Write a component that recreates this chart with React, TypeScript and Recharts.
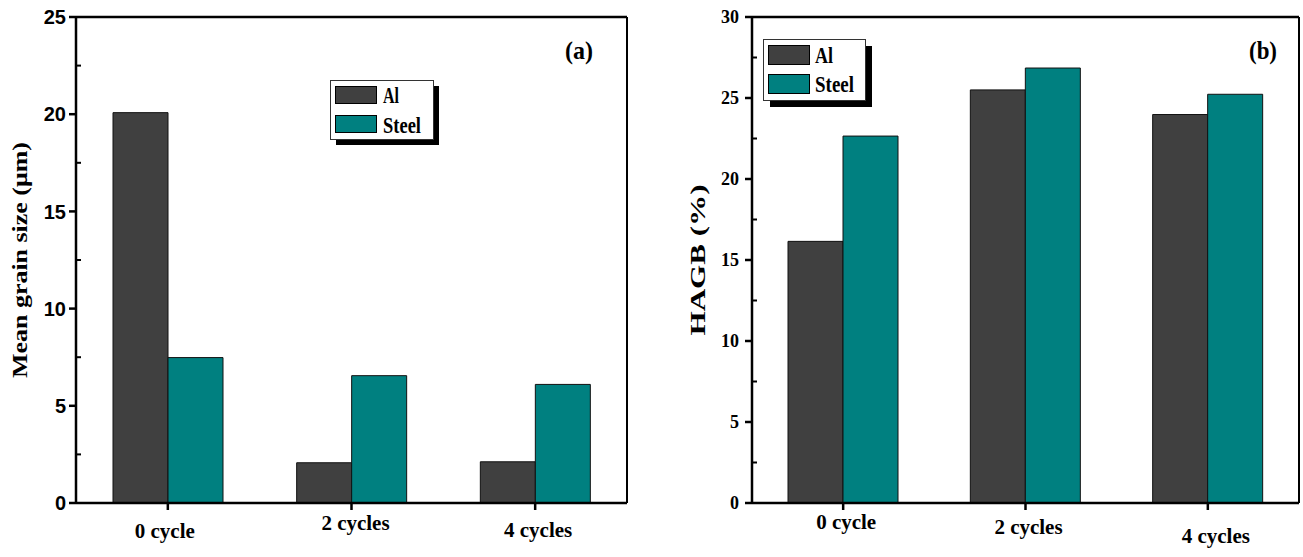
import React from 'react';
import { BarChart, Bar, XAxis, YAxis, Legend } from 'recharts';

// ---------- data ----------
const categories = ['0 cycle', '2 cycles', '4 cycles'];
const seriesNames = ['Al', 'Steel'];
const grainAl = [20.08, 2.07, 2.12];
const grainSteel = [7.48, 6.55, 6.1];
const hagbAl = [16.15, 25.5, 23.98];
const hagbSteel = [22.65, 26.85, 25.23];
const grainTicks = [0, 2.5, 5, 7.5, 10, 12.5, 15, 17.5, 20, 22.5, 25];
const hagbTicks = [0, 2.5, 5, 7.5, 10, 12.5, 15, 17.5, 20, 22.5, 25, 27.5, 30];
const panelLabels = ['(a)', '(b)'];
const yTitles = ['Mean grain size (\u03bcm)', 'HAGB (%)'];

const grainData = categories.map((c, i) => ({ cat: c, [seriesNames[0]]: grainAl[i], [seriesNames[1]]: grainSteel[i] }));
const hagbData = categories.map((c, i) => ({ cat: c, [seriesNames[0]]: hagbAl[i], [seriesNames[1]]: hagbSteel[i] }));

// ---------- styles ----------
const AL_COLOR = '#404040';
const STEEL_COLOR = '#008080';
const SERIF = '"Liberation Serif", "Times New Roman", serif';
const SANS = '"Liberation Sans", Arial, sans-serif';
const TICK_SIZE = 6;
const TICK_MARGIN = 2;
// label offsets [dx, baseline below axis]
const leftXLabelOffsets = [[-3, 35], [4, 27], [3, 34]];
const rightXLabelOffsets = [[3, 26], [3, 31], [8, 40]];

const makeYTick = (font: string, size: number, gap: number) => (props: any) => {
  const { x, y, payload } = props;
  const ax = x + TICK_SIZE + TICK_MARGIN;
  const v = payload.value;
  if (v % 5 === 0) {
    return (
      <g>
        <line x1={ax - 7} x2={ax} y1={y} y2={y} stroke="#000" strokeWidth={2.5} />
        <text x={ax - gap} y={y} dy="0.36em" textAnchor="end" fontFamily={font} fontWeight="bold" fontSize={size} fill="#000">
          {v}
        </text>
      </g>
    );
  }
  return <line x1={ax} x2={ax + 5} y1={y} y2={y} stroke="#000" strokeWidth={2} />;
};

const makeXTick = (offsets: number[][]) => (props: any) => {
  const { x, y, payload, index } = props;
  const ay = y - TICK_SIZE - TICK_MARGIN;
  const off = offsets[index] || [0, 30];
  return (
    <g>
      <line x1={x} x2={x} y1={ay} y2={ay + 7} stroke="#000" strokeWidth={2.5} />
      <text x={x + off[0]} y={ay + off[1]} textAnchor="middle" fontFamily={SERIF} fontWeight="bold" fontSize={21} fill="#000">
        {payload.value}
      </text>
    </g>
  );
};

const makeYTitle = (text: string, cx: number, len: number) => (props: any) => {
  const vb = props.viewBox || {};
  const cy = vb.y + vb.height / 2;
  return (
    <text
      x={cx}
      y={cy}
      transform={`rotate(-90 ${cx} ${cy})`}
      textAnchor="middle"
      dominantBaseline="central"
      fontFamily={SERIF}
      fontWeight="bold"
      fontSize={21}
      fill="#000"
      textLength={len}
      lengthAdjust="spacingAndGlyphs"
    >
      {text}
    </text>
  );
};

const makePanelLabel = (text: string, fromRight: number) => (props: any) => {
  const vb = props.viewBox || {};
  const cx = vb.x + vb.width - fromRight;
  return (
    <text x={cx} y={59} textAnchor="middle" fontFamily={SERIF} fontWeight="bold" fontSize={25} fill="#000" textLength={28} lengthAdjust="spacingAndGlyphs">
      {text}
    </text>
  );
};

const makeLegend = (cfg: { w: number; h: number; sw: number; rowY: number[]; rowH: number; textX: number; baseY: number[]; fs: number; lens: number[]; shadow: number }) => (props: any) => {
  const payload = props.payload || [];
  return (
    <svg width={cfg.w + cfg.shadow + 1} height={cfg.h + cfg.shadow + 1} style={{ display: 'block' }}>
      <rect x={cfg.shadow} y={cfg.shadow} width={cfg.w} height={cfg.h} fill="#000" />
      <rect x={0.5} y={0.5} width={cfg.w} height={cfg.h} fill="#fff" stroke="#333" strokeWidth={1} />
      {payload.map((p: any, i: number) => (
        <g key={i}>
          <rect x={5.5} y={cfg.rowY[i]} width={cfg.sw} height={cfg.rowH} fill={p.color} stroke="#000" strokeWidth={1} />
          <text x={cfg.textX} y={cfg.baseY[i]} fontFamily={SERIF} fontWeight="bold" fontSize={cfg.fs} fill="#000" textLength={cfg.lens[i]} lengthAdjust="spacingAndGlyphs">
            {p.value}
          </text>
        </g>
      ))}
    </svg>
  );
};

const leftLegend = makeLegend({ w: 103, h: 59, sw: 41, rowY: [6.5, 35.5], rowH: 17, textX: 53, baseY: [23, 53], fs: 23, lens: [16, 38], shadow: 6 });
const rightLegend = makeLegend({ w: 102, h: 61, sw: 41, rowY: [6.5, 35.5], rowH: 19, textX: 52, baseY: [24, 53], fs: 24, lens: [18, 39], shadow: 7 });

export default function App() {
  return (
    <div style={{ position: 'absolute', left: 0, top: 0, width: 1303, height: 557, display: 'flex', background: '#fff' }}>
      <BarChart width={650} height={557} data={grainData} margin={{ top: 16, right: 22, bottom: 0, left: 0 }} barGap={0} barSize={55}>
        <XAxis
          dataKey="cat"
          height={54}
          interval={0}
          tickSize={TICK_SIZE}
          tickMargin={TICK_MARGIN}
          tickLine={false}
          axisLine={{ stroke: '#000', strokeWidth: 2.5 }}
          tick={makeXTick(leftXLabelOffsets)}
        />
        <XAxis
          xAxisId="top"
          orientation="top"
          dataKey="cat"
          height={1}
          tick={false}
          tickLine={false}
          axisLine={{ stroke: '#000', strokeWidth: 2.5 }}
          label={makePanelLabel(panelLabels[0], 48)}
        />
        <YAxis
          width={76}
          domain={[0, 25]}
          ticks={grainTicks}
          interval={0}
          tickSize={TICK_SIZE}
          tickMargin={TICK_MARGIN}
          tickLine={false}
          axisLine={{ stroke: '#000', strokeWidth: 2.5 }}
          tick={makeYTick(SANS, 20, 10)}
          label={makeYTitle(yTitles[0], 20, 236)}
        />
        <YAxis yAxisId="right" orientation="right" width={1} domain={[0, 25]} tick={false} tickLine={false} axisLine={{ stroke: '#000', strokeWidth: 2 }} />
        <Legend
          layout="vertical"
          align="center"
          verticalAlign="middle"
          content={leftLegend}
          wrapperStyle={{ left: 330, top: 80, width: 'auto', height: 'auto' }}
        />
        <Bar dataKey={seriesNames[0]} name={seriesNames[0]} fill={AL_COLOR} stroke="#111" strokeWidth={1} isAnimationActive={false} />
        <Bar dataKey={seriesNames[1]} name={seriesNames[1]} fill={STEEL_COLOR} stroke="#111" strokeWidth={1} isAnimationActive={false} />
      </BarChart>
      <BarChart width={653} height={557} data={hagbData} margin={{ top: 16, right: 3, bottom: 0, left: 0 }} barGap={0} barSize={55}>
        <XAxis
          dataKey="cat"
          height={54}
          interval={0}
          tickSize={TICK_SIZE}
          tickMargin={TICK_MARGIN}
          tickLine={false}
          axisLine={{ stroke: '#000', strokeWidth: 2.5 }}
          tick={makeXTick(rightXLabelOffsets)}
        />
        <XAxis
          xAxisId="top"
          orientation="top"
          dataKey="cat"
          height={1}
          tick={false}
          tickLine={false}
          axisLine={{ stroke: '#000', strokeWidth: 2.5 }}
          label={makePanelLabel(panelLabels[1], 36)}
        />
        <YAxis
          width={102}
          domain={[0, 30]}
          ticks={hagbTicks}
          interval={0}
          tickSize={TICK_SIZE}
          tickMargin={TICK_MARGIN}
          tickLine={false}
          axisLine={{ stroke: '#000', strokeWidth: 2.5 }}
          tick={makeYTick(SERIF, 18, 13)}
          label={makeYTitle(yTitles[1], 48, 151)}
        />
        <YAxis yAxisId="right" orientation="right" width={1} domain={[0, 30]} tick={false} tickLine={false} axisLine={{ stroke: '#000', strokeWidth: 2 }} />
        <Legend
          layout="vertical"
          align="center"
          verticalAlign="middle"
          content={rightLegend}
          wrapperStyle={{ left: 113, top: 39, width: 'auto', height: 'auto' }}
        />
        <Bar dataKey={seriesNames[0]} name={seriesNames[0]} fill={AL_COLOR} stroke="#111" strokeWidth={1} isAnimationActive={false} />
        <Bar dataKey={seriesNames[1]} name={seriesNames[1]} fill={STEEL_COLOR} stroke="#111" strokeWidth={1} isAnimationActive={false} />
      </BarChart>
    </div>
  );
}
